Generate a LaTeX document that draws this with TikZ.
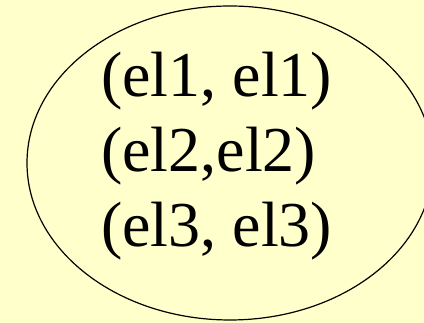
\documentclass[tikz,border=0pt]{standalone}
\usepackage{fontspec}
\setmainfont{Liberation Serif}
\usepackage{tikz}
\usetikzlibrary{shapes.geometric,positioning}
\definecolor{slidebg}{HTML}{FFFFCC}

\begin{document}
\begin{tikzpicture}[
    x=1pt, y=1pt,
    every node/.style={font=\fontsize{64}{75}\selectfont, inner sep=0pt},
    pairset/.style={draw, ellipse, line width=1.2pt, minimum width=406pt, minimum height=314pt},
  ]
    % Фон
    \fill[slidebg] (0,0) rectangle (424,323);
    \useasboundingbox (0,0) rectangle (424,323);

    % Множество
    \begin{scope}
      \clip (0,0) rectangle (424,323);
      \node[pairset] (set) at (230,160) {};
    \end{scope}

    % Пары
    \node[anchor=base west] (p1) at (101,226) {(el1, el1)};
    \node[anchor=base west] (p2) at (101,151) {(el2,el2)};
    \node[anchor=base west] (p3) at (101,76) {(el3, el3)};
  \end{tikzpicture}
\end{document}
